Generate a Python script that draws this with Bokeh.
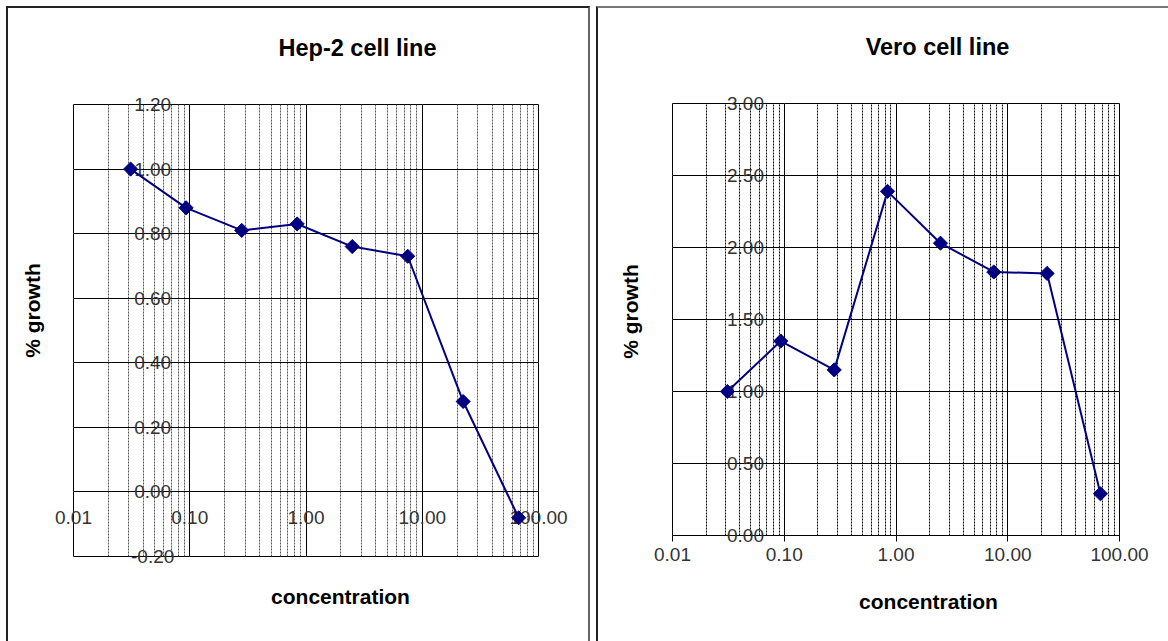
import math
from bokeh.plotting import figure
from bokeh.layouts import row
from bokeh.models import (Grid, FixedTicker, LogAxis, ColumnDataSource)
from bokeh.core.properties import value
from bokeh.embed import file_html
from bokeh.resources import INLINE

# ---------------- data ----------------
concentration = [0.031, 0.093, 0.28, 0.84, 2.5, 7.5, 22.5, 67.5]
hep2_growth = [1.00, 0.88, 0.81, 0.83, 0.76, 0.73, 0.28, -0.08]
vero_growth = [1.00, 1.35, 1.15, 2.39, 2.03, 1.83, 1.82, 0.29]

x_ticks = [0.01, 0.1, 1, 10, 100]
x_tick_labels = ["0.01", "0.10", "1.00", "10.00", "100.00"]
hep2_y_ticks = [-0.2, 0.0, 0.2, 0.4, 0.6, 0.8, 1.0, 1.2]
hep2_y_labels = ["-0.20", "0.00", "0.20", "0.40", "0.60", "0.80", "1.00", "1.20"]
vero_y_ticks = [0.0, 0.5, 1.0, 1.5, 2.0, 2.5, 3.0]
vero_y_labels = ["0.00", "0.50", "1.00", "1.50", "2.00", "2.50", "3.00"]

titles = ["Hep-2 cell line", "Vero cell line"]
x_title = "concentration"
y_title = "% growth"

minor_x = [k * 10.0 ** d for d in range(-2, 2) for k in range(2, 10)]

FONT = "Liberation Sans"
NAVY = "#000080"
TICK_COLOR = "#333333"


def make_panel(width, height, frame_l, frame_r, frame_t, frame_b,
               y_range, y_ticks, y_labels, growth, title, offsets,
               minor_color, ylab_x, inner_x_labels, xlab_y=None):
    p = figure(width=width, height=height, x_axis_type="log",
               x_range=(0.01, 100), y_range=y_range,
               x_axis_location=None, y_axis_location=None,
               output_backend="svg", toolbar_location=None,
               min_border_left=frame_l, min_border_right=frame_r,
               min_border_top=frame_t, min_border_bottom=frame_b)
    p.frame_align = False
    p.background_fill_color = "white"
    p.border_fill_color = "white"
    p.outline_line_color = "#000000"
    p.outline_line_width = 1

    # vertical grid: decades solid, 2..9 dashed
    vg = Grid(dimension=0, ticker=FixedTicker(ticks=x_ticks, minor_ticks=minor_x))
    vg.grid_line_color = "#000000"
    vg.grid_line_width = 1
    vg.minor_grid_line_color = minor_color
    vg.minor_grid_line_dash = "2 1"
    vg.minor_grid_line_width = 1
    p.add_layout(vg)

    hg = Grid(dimension=1, ticker=FixedTicker(ticks=y_ticks))
    hg.grid_line_color = "#000000"
    hg.grid_line_width = 1
    p.add_layout(hg)

    # y tick labels drawn inside the plot (as in the Excel original)
    ysrc = ColumnDataSource(dict(x=[ylab_x] * len(y_ticks), y=y_ticks, t=y_labels))
    ry = p.text(x="x", y="y", text="t", source=ysrc, text_align="center",
                text_baseline="middle", text_font=value(FONT),
                text_font_size="19px", text_color=TICK_COLOR)
    ry.level = "overlay"

    if inner_x_labels:
        xsrc = ColumnDataSource(dict(x=x_ticks, y=[xlab_y] * len(x_ticks), t=x_tick_labels))
        rx = p.text(x="x", y="y", text="t", source=xsrc, text_align="center",
                    text_baseline="middle", text_font=value(FONT),
                    text_font_size="19px", text_color=TICK_COLOR)
        rx.level = "overlay"
    else:
        ax = LogAxis(ticker=FixedTicker(ticks=x_ticks, minor_ticks=[]))
        ax.major_label_overrides = {t: l for t, l in zip(x_ticks, x_tick_labels)}
        ax.major_label_text_font = FONT
        ax.major_label_text_font_size = "19px"
        ax.major_label_text_color = TICK_COLOR
        ax.major_tick_in = 0
        ax.major_tick_out = 6
        ax.major_tick_line_color = "#000000"
        ax.minor_tick_line_color = None
        ax.axis_line_color = "#000000"
        ax.major_label_standoff = 6
        p.add_layout(ax, "below")

    src = ColumnDataSource(dict(x=concentration, y=growth))
    rl = p.line("x", "y", source=src, line_color=NAVY, line_width=2)
    rm = p.scatter("x", "y", source=src, marker="square", angle=math.pi / 4, size=10,
                   fill_color=NAVY, line_color=NAVY)
    rl.level = "overlay"
    rm.level = "overlay"

    # chart title and axis titles, anchored at the frame's top-left corner
    (tx, ty), (cx, cy), (gx, gy) = offsets
    anchor_x, anchor_y = x_ticks[0], y_ticks[-1]
    tsrc = ColumnDataSource(dict(
        x=[anchor_x] * 3, y=[anchor_y] * 3,
        t=[title, x_title, y_title],
        xo=[tx, cx, gx], yo=[ty, cy, gy],
        a=[0.0, 0.0, math.pi / 2],
        fs=["23.5px", "21px", "21px"],
    ))
    rt = p.text(x="x", y="y", text="t", source=tsrc, x_offset="xo", y_offset="yo",
                angle="a", text_font_size="fs", text_align="center",
                text_baseline="middle", text_font=value(FONT),
                text_font_style="bold", text_color="#000000")
    rt.level = "overlay"
    return p


p1 = make_panel(584, 635, 65, 54, 96, 87, (-0.2, 1.2), hep2_y_ticks, hep2_y_labels,
                hep2_growth, titles[0], ((284, -57), (267, 492), (-41, 206)),
                "#555555", 0.048, True, xlab_y=-0.078)
p2 = make_panel(572, 635, 74, 51, 95, 108, (0.0, 3.0), vero_y_ticks, vero_y_labels,
                vero_growth, titles[1], ((265, -57), (256, 498), (-42, 208)),
                "#000000", 0.045, False)
p1.styles = {"border-left": "2px solid #222222", "border-top": "2px solid #222222",
             "border-right": "2px solid #666666"}
p2.styles = {"border-left": "2px solid #222222", "border-top": "2px solid #777777"}
p1.margin = (6, 0, 0, 6)
p2.margin = (6, 0, 0, 6)

layout = row(p1, p2)
layout.margin = (0, 0, 0, 0)
open("out.html", "w").write(file_html(layout, INLINE))
